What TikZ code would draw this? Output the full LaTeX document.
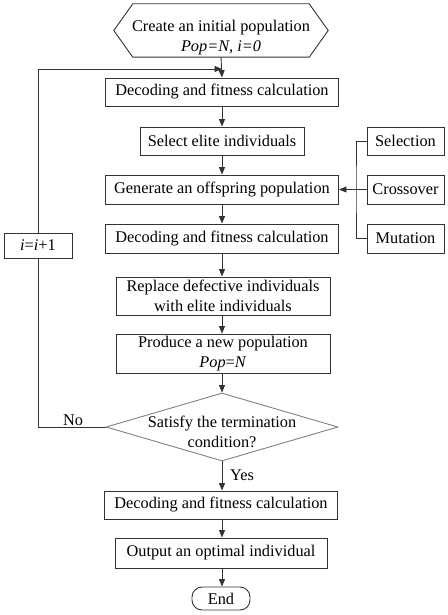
\documentclass[tikz,border=0pt]{standalone}
\usepackage{fontspec}
\setmainfont{Liberation Serif}
\usetikzlibrary{shapes.geometric,arrows.meta}
\begin{document}
\begin{tikzpicture}[x=1pt,y=-1pt,
  font=\fontsize{16.3}{20}\selectfont,
  box/.style={draw=black!80, line width=0.9pt, inner sep=0pt, align=center},
  arr/.style={-{Triangle[length=7.5pt,width=6pt]}, line width=0.9pt, draw=black!80},
  ln/.style={line width=0.9pt, draw=black!80},
  lbl/.style={inner sep=0pt}]
\useasboundingbox (0,0) rectangle (447,615);
% start hexagon
\node[inner sep=0pt, minimum width=176pt, minimum height=53pt] (start) at (221,30.5) {};
\draw[ln] (start.north west) -- (start.north east) -- ([xshift=19pt]start.east) -- (start.south east) -- (start.south west) -- ([xshift=-19pt]start.west) -- cycle;
\node[lbl, align=center] (starttext) at (221,38) {Create an initial population\\\textit{Pop=N, i=0}};
% main column
\node[box, minimum width=233pt, minimum height=28pt] (b1) at (222,92) {Decoding and fitness calculation};
\node[box, minimum width=164pt, minimum height=28pt] (b2) at (222,141) {Select elite individuals};
\node[box, minimum width=233pt, minimum height=29pt] (b3) at (222,189.5) {Generate an offspring population};
\node[box, minimum width=233pt, minimum height=29pt] (b4) at (222,238.5) {Decoding and fitness calculation};
\node[box, minimum width=214pt, minimum height=38pt] (b5) at (223,296) {Replace defective individuals\\with elite individuals};
\node[box, minimum width=214pt, minimum height=39pt] (b6) at (223,353.5) {Produce a new population\\\textit{Pop}=\textit{N}};
\node[diamond, draw=black!50, line width=0.9pt, inner sep=0pt, minimum width=232pt, minimum height=68pt, aspect=3.4] (d) at (222,427) {};
\node[lbl, align=center] (dtext) at (222,432) {Satisfy the termination\\condition?};
\node[box, minimum width=233pt, minimum height=28pt] (b7) at (221,505) {Decoding and fitness calculation};
\node[box, minimum width=212pt, minimum height=30pt] (b8) at (221,553) {Output an optimal individual};
\node[box, rounded corners=10pt, minimum width=58pt, minimum height=23pt] (endn) at (221,598.5) {End};
% operators
\node[box, minimum width=77pt, minimum height=28pt] (sel) at (405.5,141) {Selection};
\node[box, minimum width=77pt, minimum height=29pt] (cro) at (405.5,189.5) {Crossover};
\node[box, minimum width=77pt, minimum height=29pt] (mut) at (405.5,238.5) {Mutation};
\coordinate (bx) at (356,189.5);
% loop
\node[box, minimum width=68pt, minimum height=25pt] (inc) at (38,245.5) {\textit{i}=\textit{i}+1};
\coordinate (lc) at (38,69);
\coordinate (join) at (222,69);
\coordinate (lb) at (38,427);
% labels
\node[lbl] (no) at (73,420) {No};
\node[lbl] (yes) at (242,475) {Yes};
% connectors
\draw[arr] (start.south) -- (b1.north);
\draw[arr] (b1) -- (b2);
\draw[arr] (b2) -- (b3);
\draw[arr] (b3) -- (b4);
\draw[arr] (b4.south) -- (b5.north -| b4.south);
\draw[arr] (b5.south -| b4.south) -- (b6.north -| b4.south);
\draw[arr] (b6.south -| b4.south) -- (d.north);
\draw[arr] (d.south) -- (b7.north -| d.south);
\draw[arr] (b7.south -| d.south) -- (b8.north -| d.south);
\draw[arr] (b8.south -| d.south) -- (endn.north -| d.south);
\draw[ln] (sel.west) -| (bx) |- (mut.west);
\draw[arr] (cro.west) -- (b3.east);
\draw[ln] (d.west) -- (lb) -- (inc.south);
\draw[arr] (inc.north) -- (lc) -- (join);
\end{tikzpicture}
\end{document}
